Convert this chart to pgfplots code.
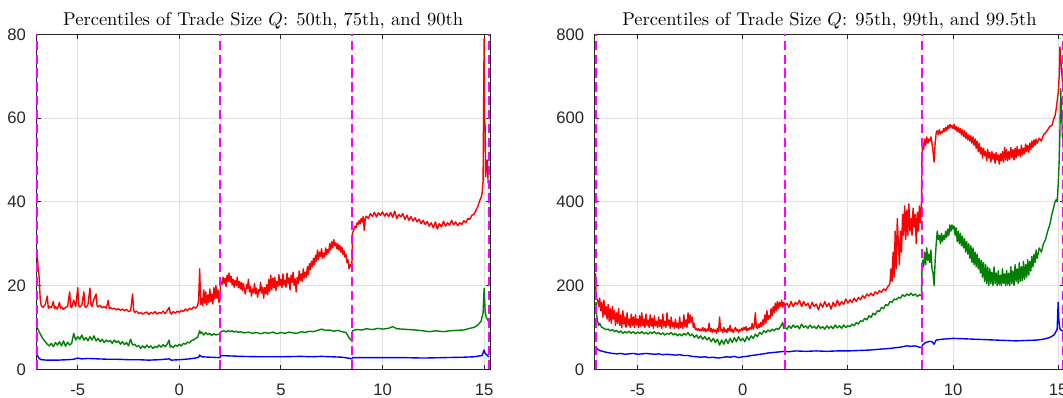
\documentclass[border=0pt]{standalone}
\usepackage{pgfplots}
\pgfplotsset{compat=1.18}
\usepackage{fontspec}
\newfontfamily\tickfont{Liberation Sans}
\definecolor{mgreen}{rgb}{0,0.5,0}
\definecolor{mred}{rgb}{1,0,0}
\definecolor{mblue}{rgb}{0,0,1}
\definecolor{mmag}{rgb}{1,0,1}
\definecolor{axgray}{rgb}{0.15,0.15,0.15}
\pgfplotsset{
  panel/.style={
    scale only axis,
    anchor=south west,
    height=180.9pt,
    xmin=-7.05, xmax=15.3,
    xtick={-5,0,5,10,15},
    xticklabels={-5,0,5,10,15},
    grid=major,
    major grid style={line width=0.5pt, color=black!12},
    axis line style={line width=0.5pt, color=axgray},
    tick style={line width=0.5pt, color=axgray},
    tick align=inside,
    major tick length=2.4pt,
    tick label style={font=\tickfont\fontsize{9}{9}\selectfont, text=axgray},
    xticklabel style={yshift=-4.2pt},
    yticklabel style={xshift=-2pt},
    every axis title shift=0pt,
    title style={at={(0.5,1)}, anchor=base, yshift=5pt, font=\fontsize{10}{12}\selectfont},
    clip=true,
  },
  vl/.style={draw=mmag, color=mmag, line width=0.9pt, dash pattern=on 5pt off 2.5pt},
  dl/.style={line width=0.75pt, line join=round},
}
\begin{document}
\begin{tikzpicture}
% ---------------- Left panel ----------------
\begin{axis}[panel, at={(19.5pt,14.96pt)}, width=245.2pt,
  ymin=0, ymax=80, ytick={0,20,40,60,80}, yticklabels={0,20,40,60,80},
  title={Percentiles of Trade Size $Q$: 50th, 75th, and 90th}]
\addplot[dl, mred] coordinates {
(-7.0,28) (-6.95,24) (-6.9,22) (-6.85,17) (-6.8,15.2) (-6.7,14.8) (-6.6,15.5) (-6.5,17.5) (-6.45,14.6) (-6.4,15.0) (-6.3,14.7) (-6.2,16.2) (-6.15,14.5) (-6.1,15.0) (-6.0,14.4) (-5.9,16.0) (-5.85,14.6) (-5.8,14.9) (-5.7,14.3) (-5.6,14.8) (-5.5,15.0) (-5.4,18.5) (-5.35,15.1) (-5.3,14.7) (-5.2,16.5) (-5.1,15.0) (-5.0,19.5) (-4.95,15.2) (-4.9,14.9) (-4.8,15.3) (-4.7,18.5) (-4.65,15.0) (-4.6,14.8) (-4.5,15.4) (-4.4,19.4) (-4.35,15.5) (-4.3,15.0) (-4.2,16.8) (-4.1,18.0) (-4.05,15.2) (-4.0,14.9) (-3.9,15.3) (-3.8,14.7) (-3.7,15.0) (-3.6,14.6) (-3.5,16.5) (-3.45,14.5) (-3.4,14.8) (-3.3,14.4) (-3.2,14.6) (-3.1,14.2) (-3.0,14.5) (-2.9,14.1) (-2.8,14.4) (-2.7,14.0) (-2.6,14.3) (-2.5,13.8) (-2.4,14.0) (-2.3,18.0) (-2.25,14.1) (-2.2,13.6) (-2.1,13.9) (-2.0,13.3) (-1.9,13.6) (-1.8,13.2) (-1.7,13.5) (-1.6,13.7) (-1.5,13.1) (-1.4,13.6) (-1.3,13.3) (-1.2,13.8) (-1.1,13.2) (-1.0,13.6) (-0.9,13.4) (-0.8,13.9) (-0.7,13.3) (-0.6,14.0) (-0.5,14.8) (-0.45,13.5) (-0.4,13.2) (-0.3,13.8) (-0.2,13.4) (-0.1,13.9) (0.0,13.6) (0.1,14.1) (0.2,13.8) (0.3,14.4) (0.4,14.0) (0.5,14.6) (0.6,14.3) (0.7,14.9) (0.8,14.6) (0.9,15.2) (0.95,16.5) (1.0,24.0) (1.05,15.5) (1.1,17.0) (1.15,15.2) (1.2,19.0) (1.25,15.8) (1.3,18.5) (1.35,15.4) (1.4,17.8) (1.45,16.0) (1.5,19.2) (1.55,16.2) (1.6,18.0) (1.65,15.6) (1.7,19.5) (1.75,16.8) (1.8,20.0) (1.85,17.0) (1.9,19.0) (1.95,16.0) (2.0,16.5) (2.02,21.0) (2.1,20.3) (2.15,22.0) (2.2,20.5) (2.25,21.8) (2.3,19.8) (2.35,22.5) (2.4,21.0) (2.45,23.0) (2.5,20.8) (2.55,22.2) (2.6,20.2) (2.65,21.5) (2.7,19.6) (2.75,21.2) (2.8,20.0) (2.85,22.0) (2.9,19.5) (2.95,21.0) (3.0,19.2) (3.05,20.8) (3.1,18.8) (3.15,20.5) (3.2,19.0) (3.25,18.0) (3.3,20.2) (3.35,19.3) (3.4,21.5) (3.45,18.5) (3.5,19.8) (3.55,17.5) (3.6,19.2) (3.65,18.3) (3.7,20.5) (3.75,18.0) (3.8,19.4) (3.85,17.2) (3.9,19.0) (3.95,18.5) (4.0,20.8) (4.05,18.2) (4.1,19.6) (4.15,17.0) (4.2,19.5) (4.25,18.0) (4.3,20.2) (4.35,17.8) (4.4,21.5) (4.45,18.6) (4.5,22.5) (4.55,19.0) (4.6,21.8) (4.65,19.5) (4.7,22.0) (4.75,18.8) (4.8,21.0) (4.85,19.8) (4.9,22.6) (4.95,20.0) (5.0,21.5) (5.05,19.5) (5.1,22.8) (5.15,20.2) (5.2,21.3) (5.25,19.6) (5.3,23.0) (5.35,20.5) (5.4,21.8) (5.45,19.0) (5.5,22.5) (5.55,20.8) (5.6,23.2) (5.65,20.0) (5.7,21.6) (5.75,18.5) (5.8,22.0) (5.85,20.5) (5.9,23.5) (5.95,21.2) (6.0,22.8) (6.05,21.0) (6.1,24.0) (6.15,21.8) (6.2,23.2) (6.25,22.0) (6.3,24.5) (6.35,22.6) (6.4,25.2) (6.45,23.8) (6.5,25.8) (6.55,24.5) (6.6,26.5) (6.65,25.0) (6.7,27.2) (6.75,25.8) (6.8,28.5) (6.85,26.2) (6.9,28.0) (6.95,27.0) (7.0,28.8) (7.05,26.5) (7.1,27.8) (7.15,26.8) (7.2,29.0) (7.25,27.4) (7.3,28.6) (7.35,27.8) (7.4,30.0) (7.45,28.5) (7.5,30.5) (7.55,29.0) (7.6,31.0) (7.65,29.5) (7.7,30.2) (7.75,28.8) (7.8,30.0) (7.85,28.5) (7.9,29.6) (7.95,28.0) (8.0,29.2) (8.05,27.5) (8.1,28.4) (8.15,26.8) (8.2,27.5) (8.25,25.5) (8.3,26.2) (8.35,24.0) (8.4,25.0) (8.45,24.5) (8.5,26.0) (8.52,32.5) (8.6,33.5) (8.65,34.2) (8.7,33.8) (8.75,35.0) (8.8,34.6) (8.85,35.5) (8.9,34.8) (8.95,36.0) (9.0,35.2) (9.05,36.5) (9.1,33.2) (9.15,36.0) (9.2,36.6) (9.3,36.0) (9.4,37.2) (9.5,36.5) (9.6,37.5) (9.7,36.4) (9.8,37.4) (9.9,36.8) (10.0,37.6) (10.1,36.6) (10.2,37.3) (10.3,36.5) (10.4,37.5) (10.5,36.3) (10.6,37.8) (10.7,36.0) (10.8,37.0) (10.9,36.4) (11.0,37.2) (11.1,35.8) (11.2,36.8) (11.3,35.6) (11.4,36.5) (11.5,35.4) (11.6,36.2) (11.7,35.2) (11.8,35.9) (11.9,34.8) (12.0,35.6) (12.1,34.6) (12.2,35.3) (12.3,34.2) (12.4,35.0) (12.5,33.8) (12.6,35.2) (12.7,33.5) (12.8,34.8) (12.9,34.0) (13.0,35.4) (13.1,34.2) (13.2,35.0) (13.3,34.4) (13.4,35.6) (13.5,34.5) (13.6,35.2) (13.7,34.3) (13.8,35.0) (13.9,34.6) (14.0,35.5) (14.1,35.0) (14.2,36.0) (14.3,35.8) (14.4,36.8) (14.5,37.0) (14.6,38.0) (14.7,39.0) (14.8,40.5) (14.85,41.0) (14.9,42.0) (14.95,45.0) (15.0,79.0) (15.02,60.0) (15.05,58.0) (15.08,46.0) (15.1,48.0) (15.15,50.0) (15.2,44.5) (15.25,44.0)
};
\addplot[dl, mgreen] coordinates {
(-7.0,10.0) (-6.9,9.0) (-6.8,8.0) (-6.7,7.2) (-6.6,6.6) (-6.5,6.0) (-6.4,5.6) (-6.3,6.2) (-6.2,5.4) (-6.1,6.4) (-6.0,5.8) (-5.9,6.6) (-5.8,5.6) (-5.7,6.8) (-5.6,5.5) (-5.5,6.5) (-5.4,5.8) (-5.3,6.2) (-5.2,8.6) (-5.1,7.0) (-5.0,7.8) (-4.9,7.2) (-4.8,8.2) (-4.7,7.0) (-4.6,7.6) (-4.5,6.8) (-4.4,7.8) (-4.3,7.0) (-4.2,8.0) (-4.1,6.8) (-4.0,7.4) (-3.9,6.6) (-3.8,7.2) (-3.7,6.4) (-3.6,7.0) (-3.5,6.6) (-3.4,6.9) (-3.3,6.2) (-3.2,7.0) (-3.1,6.4) (-3.0,6.8) (-2.9,6.0) (-2.8,6.6) (-2.7,5.9) (-2.6,6.4) (-2.5,5.6) (-2.4,7.2) (-2.3,5.8) (-2.2,6.0) (-2.1,5.4) (-2.0,5.7) (-1.9,5.0) (-1.8,5.6) (-1.7,5.1) (-1.6,5.8) (-1.5,5.2) (-1.4,5.6) (-1.3,5.0) (-1.2,5.5) (-1.1,5.2) (-1.0,5.8) (-0.9,5.3) (-0.8,5.9) (-0.7,5.4) (-0.6,6.0) (-0.5,7.0) (-0.45,5.3) (-0.4,5.6) (-0.3,5.2) (-0.2,5.8) (-0.1,5.5) (0.0,6.0) (0.1,5.6) (0.2,6.2) (0.3,6.0) (0.4,6.5) (0.5,6.3) (0.6,6.9) (0.7,7.0) (0.8,7.4) (0.9,7.6) (1.0,9.2) (1.05,8.6) (1.1,8.9) (1.2,8.2) (1.3,8.8) (1.4,8.3) (1.5,8.6) (1.6,8.1) (1.7,8.5) (1.8,8.2) (1.9,8.4) (2.0,8.2) (2.05,9.0) (2.2,9.2) (2.3,8.9) (2.4,9.3) (2.5,9.0) (2.6,9.2) (2.7,8.9) (2.8,9.1) (2.9,8.8) (3.0,9.0) (3.2,8.7) (3.4,8.9) (3.6,8.6) (3.8,8.8) (4.0,8.5) (4.2,8.8) (4.4,8.6) (4.6,8.9) (4.8,8.5) (5.0,8.8) (5.2,8.6) (5.4,8.9) (5.6,8.7) (5.8,8.6) (6.0,9.0) (6.2,8.8) (6.4,9.1) (6.6,9.0) (6.8,9.3) (7.0,9.6) (7.2,9.3) (7.4,9.4) (7.6,9.1) (7.8,9.3) (8.0,9.0) (8.2,8.8) (8.3,8.0) (8.4,7.2) (8.5,6.8) (8.52,9.2) (8.7,9.5) (9.0,9.4) (9.2,9.7) (9.5,9.5) (9.8,9.8) (10.0,9.6) (10.3,9.8) (10.5,10.2) (10.7,9.7) (11.0,9.6) (11.3,9.5) (11.6,9.4) (12.0,9.2) (12.3,9.0) (12.6,9.2) (13.0,9.0) (13.3,9.2) (13.6,9.3) (14.0,9.4) (14.3,9.8) (14.5,10.0) (14.7,10.6) (14.85,11.5) (14.95,13.5) (15.0,19.3) (15.05,14.0) (15.1,12.5) (15.2,11.6) (15.25,11.5)
};
\addplot[dl, mblue] coordinates {
(-7.0,3.4) (-6.9,2.6) (-6.8,2.3) (-6.5,2.2) (-6.0,2.2) (-5.5,2.3) (-5.2,2.4) (-5.0,2.7) (-4.8,2.5) (-4.5,2.6) (-4.0,2.5) (-3.5,2.4) (-3.0,2.4) (-2.5,2.3) (-2.0,2.3) (-1.5,2.2) (-1.0,2.3) (-0.5,2.5) (-0.4,2.2) (0.0,2.3) (0.5,2.5) (0.8,2.7) (0.95,2.9) (1.0,3.4) (1.1,3.0) (1.5,2.9) (2.0,2.8) (2.02,3.3) (2.5,3.2) (3.0,3.1) (4.0,3.0) (5.0,3.0) (6.0,3.1) (6.5,3.0) (7.0,3.1) (7.5,3.0) (8.0,2.9) (8.3,2.7) (8.5,2.5) (8.52,2.8) (9.0,2.8) (10.0,2.8) (11.0,2.8) (12.0,2.7) (13.0,2.8) (14.0,2.9) (14.5,3.0) (14.9,3.3) (15.0,4.6) (15.05,3.8) (15.1,3.6) (15.2,3.1) (15.25,3.0)
};
\addplot[vl] coordinates {(-7.0,0) (-7.0,80)};
\addplot[vl] coordinates {(2,0) (2,80)};
\addplot[vl] coordinates {(8.5,0) (8.5,80)};
\addplot[vl] coordinates {(15.25,0) (15.25,80)};
\end{axis}
% ---------------- Right panel ----------------
\begin{axis}[panel, at={(321.0pt,14.96pt)}, width=253.8pt,
  ymin=0, ymax=800, ytick={0,200,400,600,800}, yticklabels={0,200,400,600,800},
  title={Percentiles of Trade Size $Q$: 95th, 99th, and 99.5th}]
\addplot[dl, mred] coordinates {
(-7.0,230) (-6.97,170) (-6.9,165) (-6.85,150) (-6.8,170) (-6.75,140) (-6.7,160) (-6.65,125) (-6.6,165) (-6.55,130) (-6.5,150) (-6.45,120) (-6.4,155) (-6.35,115) (-6.3,145) (-6.25,110) (-6.2,150) (-6.15,120) (-6.1,140) (-6.05,105) (-6.0,135) (-5.95,110) (-5.9,145) (-5.85,105) (-5.8,130) (-5.75,100) (-5.7,140) (-5.65,108) (-5.6,125) (-5.55,100) (-5.5,135) (-5.45,105) (-5.4,120) (-5.35,100) (-5.3,132) (-5.25,104) (-5.2,125) (-5.15,100) (-5.1,130) (-5.05,106) (-5.0,120) (-4.95,100) (-4.9,128) (-4.85,102) (-4.8,135) (-4.75,104) (-4.7,120) (-4.65,100) (-4.6,132) (-4.55,105) (-4.5,118) (-4.45,100) (-4.4,130) (-4.35,103) (-4.3,122) (-4.25,98) (-4.2,128) (-4.15,104) (-4.1,115) (-4.05,100) (-4.0,125) (-3.95,102) (-3.9,118) (-3.85,98) (-3.8,132) (-3.75,103) (-3.7,115) (-3.65,100) (-3.6,135) (-3.55,105) (-3.5,118) (-3.45,98) (-3.4,125) (-3.35,102) (-3.3,112) (-3.25,98) (-3.2,120) (-3.15,100) (-3.1,110) (-3.05,97) (-3.0,125) (-2.95,100) (-2.9,112) (-2.85,98) (-2.8,130) (-2.75,102) (-2.7,118) (-2.65,100) (-2.6,135) (-2.55,110) (-2.5,130) (-2.45,112) (-2.4,125) (-2.35,100) (-2.3,110) (-2.25,95) (-2.2,98) (-2.15,93) (-2.1,97) (-2.05,92) (-2.0,96) (-1.95,92) (-1.9,100) (-1.85,92) (-1.8,98) (-1.75,90) (-1.7,96) (-1.65,92) (-1.6,110) (-1.55,90) (-1.5,98) (-1.45,88) (-1.4,96) (-1.35,90) (-1.3,94) (-1.25,86) (-1.2,98) (-1.15,90) (-1.1,125) (-1.05,92) (-1.0,96) (-0.95,88) (-0.9,100) (-0.85,90) (-0.8,95) (-0.75,88) (-0.7,98) (-0.65,92) (-0.6,105) (-0.55,90) (-0.5,96) (-0.45,88) (-0.4,94) (-0.35,100) (-0.3,92) (-0.25,96) (-0.2,88) (-0.15,95) (-0.1,92) (-0.05,98) (0.0,93) (0.05,100) (0.1,95) (0.15,102) (0.2,92) (0.25,98) (0.3,94) (0.35,100) (0.4,96) (0.45,110) (0.5,96) (0.55,105) (0.6,135) (0.65,100) (0.7,98) (0.75,108) (0.8,100) (0.85,112) (0.9,102) (0.95,118) (1.0,106) (1.05,130) (1.1,110) (1.15,140) (1.2,118) (1.25,128) (1.3,122) (1.35,145) (1.4,128) (1.45,150) (1.5,135) (1.55,158) (1.6,140) (1.65,162) (1.7,145) (1.75,160) (1.8,150) (1.85,165) (1.9,148) (1.95,160) (2.0,152) (2.1,158) (2.2,148) (2.3,162) (2.4,150) (2.5,160) (2.6,155) (2.7,165) (2.8,150) (2.9,162) (3.0,152) (3.1,158) (3.2,145) (3.3,160) (3.4,150) (3.5,156) (3.6,142) (3.7,158) (3.8,148) (3.9,162) (4.0,150) (4.1,158) (4.2,144) (4.3,160) (4.4,150) (4.5,165) (4.6,152) (4.7,162) (4.8,155) (4.9,168) (5.0,158) (5.1,166) (5.2,160) (5.3,170) (5.4,162) (5.5,172) (5.6,166) (5.7,176) (5.8,170) (5.9,180) (6.0,175) (6.1,182) (6.2,176) (6.3,185) (6.4,180) (6.5,188) (6.6,184) (6.7,192) (6.8,188) (6.9,198) (6.95,200) (7.0,205) (7.05,240) (7.1,210) (7.15,280) (7.2,220) (7.25,330) (7.3,240) (7.35,360) (7.4,300) (7.45,250) (7.5,330) (7.55,280) (7.6,370) (7.65,320) (7.7,390) (7.75,310) (7.8,380) (7.85,320) (7.9,395) (7.95,330) (8.0,360) (8.05,320) (8.1,385) (8.15,340) (8.2,370) (8.25,300) (8.3,375) (8.35,330) (8.4,390) (8.45,350) (8.5,400) (8.52,500) (8.55,540) (8.6,525) (8.65,550) (8.7,535) (8.75,555) (8.8,540) (8.85,550) (8.9,545) (8.95,555) (9.0,540) (9.05,520) (9.1,495) (9.15,540) (9.2,565) (9.25,570) (9.3,560) (9.35,572) (9.4,562) (9.45,568) (9.5,565) (9.55,575) (9.6,568) (9.65,578) (9.7,570) (9.75,582) (9.8,575) (9.85,585) (9.9,578) (9.95,582) (10.0,575) (10.05,585) (10.1,572) (10.15,580) (10.2,568) (10.25,578) (10.3,565) (10.35,575) (10.4,560) (10.45,572) (10.5,556) (10.55,570) (10.6,552) (10.65,565) (10.7,548) (10.75,560) (10.8,545) (10.85,558) (10.9,540) (10.95,555) (11.0,535) (11.05,550) (11.1,528) (11.15,545) (11.2,520) (11.25,540) (11.3,515) (11.35,530) (11.4,505) (11.45,528) (11.5,510) (11.55,520) (11.6,498) (11.65,525) (11.7,505) (11.75,518) (11.8,495) (11.85,520) (11.9,502) (11.95,515) (12.0,492) (12.05,518) (12.1,500) (12.15,512) (12.2,490) (12.25,515) (12.3,498) (12.35,520) (12.4,495) (12.45,530) (12.5,500) (12.55,525) (12.6,498) (12.65,520) (12.7,502) (12.75,530) (12.8,505) (12.85,525) (12.9,500) (12.95,528) (13.0,505) (13.05,532) (13.1,510) (13.15,525) (13.2,508) (13.25,535) (13.3,512) (13.35,528) (13.4,515) (13.45,538) (13.5,520) (13.55,535) (13.6,518) (13.65,540) (13.7,525) (13.75,545) (13.8,530) (13.85,548) (13.9,535) (13.95,550) (14.0,540) (14.1,552) (14.2,545) (14.3,560) (14.4,565) (14.5,572) (14.6,580) (14.7,582) (14.8,600) (14.85,605) (14.9,620) (14.95,640) (15.0,660) (15.05,700) (15.08,770) (15.1,760) (15.15,720) (15.2,690) (15.25,675)
};
\addplot[dl, mgreen] coordinates {
(-7.0,150) (-6.97,160) (-6.95,130) (-6.9,115) (-6.85,105) (-6.8,110) (-6.7,100) (-6.6,98) (-6.5,95) (-6.4,96) (-6.3,92) (-6.2,95) (-6.1,90) (-6.0,93) (-5.9,88) (-5.8,92) (-5.7,86) (-5.6,90) (-5.5,87) (-5.4,91) (-5.3,86) (-5.2,90) (-5.1,85) (-5.0,89) (-4.9,86) (-4.8,90) (-4.7,85) (-4.6,88) (-4.5,84) (-4.4,89) (-4.3,86) (-4.2,90) (-4.1,85) (-4.0,88) (-3.9,83) (-3.8,87) (-3.7,82) (-3.6,86) (-3.5,84) (-3.4,88) (-3.3,82) (-3.2,86) (-3.1,80) (-3.0,85) (-2.9,80) (-2.8,86) (-2.7,82) (-2.6,88) (-2.5,80) (-2.4,84) (-2.3,76) (-2.2,82) (-2.1,74) (-2.0,80) (-1.9,72) (-1.8,78) (-1.7,70) (-1.6,76) (-1.5,66) (-1.4,74) (-1.3,64) (-1.2,72) (-1.1,58) (-1.0,70) (-0.9,60) (-0.8,72) (-0.7,62) (-0.6,74) (-0.5,64) (-0.4,76) (-0.3,66) (-0.2,78) (-0.1,68) (0.0,74) (0.1,66) (0.2,78) (0.3,70) (0.4,80) (0.5,74) (0.6,84) (0.7,78) (0.8,88) (0.9,84) (1.0,92) (1.1,88) (1.2,94) (1.3,90) (1.4,96) (1.5,92) (1.6,98) (1.7,95) (1.8,102) (1.9,112) (1.95,98) (2.0,100) (2.1,96) (2.2,104) (2.3,98) (2.4,106) (2.5,100) (2.6,104) (2.7,97) (2.8,108) (2.9,100) (3.0,104) (3.1,98) (3.2,106) (3.3,99) (3.4,103) (3.5,97) (3.6,105) (3.7,98) (3.8,102) (3.9,96) (4.0,104) (4.1,98) (4.2,103) (4.3,97) (4.4,106) (4.5,99) (4.6,104) (4.7,98) (4.8,106) (4.9,100) (5.0,104) (5.1,102) (5.2,108) (5.3,104) (5.4,112) (5.5,108) (5.6,116) (5.7,114) (5.8,122) (5.9,118) (6.0,128) (6.1,124) (6.2,134) (6.3,130) (6.4,140) (6.5,138) (6.6,148) (6.7,145) (6.8,155) (6.9,152) (7.0,162) (7.1,160) (7.2,168) (7.3,166) (7.4,172) (7.5,170) (7.6,178) (7.7,174) (7.8,180) (7.9,176) (8.0,182) (8.1,176) (8.2,180) (8.3,174) (8.4,178) (8.5,176) (8.52,230) (8.55,260) (8.6,245) (8.65,280) (8.7,250) (8.75,290) (8.8,260) (8.85,275) (8.9,255) (8.95,285) (9.0,240) (9.05,230) (9.1,200) (9.15,260) (9.2,300) (9.25,330) (9.3,310) (9.35,320) (9.4,300) (9.45,325) (9.5,305) (9.55,320) (9.6,310) (9.65,330) (9.7,315) (9.75,335) (9.8,320) (9.85,345) (9.9,330) (9.95,345) (10.0,335) (10.05,342) (10.1,320) (10.15,338) (10.2,305) (10.25,330) (10.3,300) (10.35,325) (10.4,295) (10.45,318) (10.5,290) (10.55,312) (10.6,280) (10.65,305) (10.7,275) (10.75,300) (10.8,265) (10.85,295) (10.9,255) (10.95,290) (11.0,250) (11.05,280) (11.1,245) (11.15,275) (11.2,240) (11.25,265) (11.3,230) (11.35,260) (11.4,220) (11.45,255) (11.5,210) (11.55,250) (11.6,205) (11.65,245) (11.7,200) (11.75,240) (11.8,205) (11.85,232) (11.9,200) (11.95,245) (12.0,205) (12.05,230) (12.1,200) (12.15,235) (12.2,202) (12.25,225) (12.3,200) (12.35,240) (12.4,205) (12.45,228) (12.5,200) (12.55,236) (12.6,202) (12.65,230) (12.7,200) (12.75,245) (12.8,205) (12.85,235) (12.9,200) (12.95,250) (13.0,210) (13.05,240) (13.1,205) (13.15,255) (13.2,210) (13.25,245) (13.3,212) (13.35,258) (13.4,215) (13.45,250) (13.5,220) (13.55,262) (13.6,225) (13.65,258) (13.7,235) (13.75,270) (13.8,245) (13.85,275) (13.9,255) (13.95,285) (14.0,265) (14.1,290) (14.2,280) (14.3,300) (14.4,310) (14.5,330) (14.6,345) (14.7,370) (14.8,390) (14.85,400) (14.9,405) (14.95,400) (15.0,440) (15.05,500) (15.08,560) (15.1,620) (15.12,670) (15.15,630) (15.2,560) (15.25,520)
};
\addplot[dl, mblue] coordinates {
(-7.0,55) (-6.9,48) (-6.8,45) (-6.6,42) (-6.4,40) (-6.2,38) (-6.0,37) (-5.8,38) (-5.6,36) (-5.4,37) (-5.2,38) (-5.0,36) (-4.8,37) (-4.6,38) (-4.4,37) (-4.2,36) (-4.0,37) (-3.8,35) (-3.6,36) (-3.4,35) (-3.2,34) (-3.0,35) (-2.8,33) (-2.6,33) (-2.4,31) (-2.2,30) (-2.0,29) (-1.8,30) (-1.6,28) (-1.4,29) (-1.2,27) (-1.0,28) (-0.8,30) (-0.6,29) (-0.4,31) (-0.2,28) (0.0,30) (0.2,31) (0.4,33) (0.6,34) (0.8,36) (1.0,37) (1.2,39) (1.4,40) (1.6,41) (1.8,42) (2.0,43) (2.2,42) (2.5,44) (3.0,43) (3.5,44) (4.0,43) (4.5,44) (5.0,44) (5.5,45) (6.0,46) (6.5,48) (7.0,50) (7.5,53) (7.8,56) (8.0,55) (8.2,56) (8.4,53) (8.5,52) (8.55,58) (8.7,64) (8.9,67) (9.0,66) (9.1,60) (9.2,70) (9.5,72) (10.0,74) (10.5,73) (11.0,72) (11.5,71) (12.0,70) (12.5,69) (13.0,68) (13.5,69) (14.0,70) (14.3,72) (14.6,76) (14.8,82) (14.95,95) (15.0,160) (15.03,120) (15.07,100) (15.1,95) (15.2,92) (15.25,92)
};
\addplot[vl] coordinates {(-6.98,0) (-6.98,800)};
\addplot[vl] coordinates {(2,0) (2,800)};
\addplot[vl] coordinates {(8.53,0) (8.53,800)};
\addplot[vl] coordinates {(15.22,0) (15.22,800)};
\end{axis}
\pgfresetboundingbox
\path[use as bounding box] (0pt,0pt) rectangle (574.0pt,214.4pt);
\end{tikzpicture}
\end{document}
